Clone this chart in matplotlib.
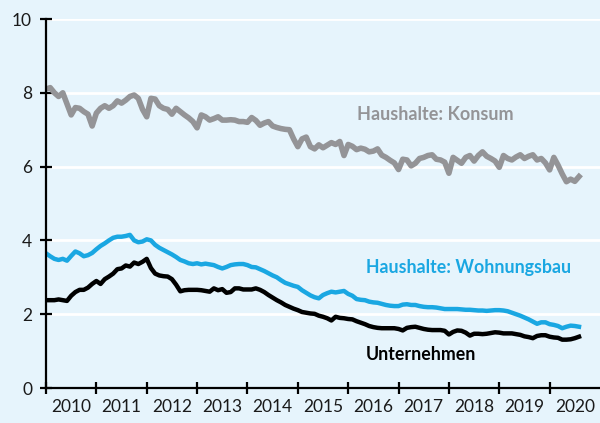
import numpy as np
import matplotlib
matplotlib.use("Agg")
import matplotlib.pyplot as plt
from matplotlib.ticker import FixedLocator, NullFormatter

# Monthly values, Jan 2010 .. Aug 2020 (percent)
konsum = [
    8.10, 8.14, 8.00, 7.90, 8.00, 7.70, 7.40, 7.60, 7.58, 7.49, 7.42, 7.10,
    7.45, 7.58, 7.65, 7.58, 7.65, 7.78, 7.72, 7.80, 7.90, 7.94, 7.85, 7.55,
    7.35, 7.85, 7.83, 7.65, 7.58, 7.55, 7.42, 7.58, 7.49, 7.40, 7.32, 7.22,
    7.05, 7.40, 7.35, 7.26, 7.30, 7.35, 7.26, 7.26, 7.27, 7.26, 7.22, 7.22,
    7.20, 7.33, 7.25, 7.12, 7.18, 7.22, 7.10, 7.06, 7.03, 7.01, 7.00, 6.75,
    6.54, 6.75, 6.80, 6.54, 6.48, 6.59, 6.51, 6.58, 6.65, 6.60, 6.68, 6.30,
    6.60, 6.55, 6.46, 6.50, 6.47, 6.40, 6.42, 6.48, 6.31, 6.25, 6.17, 6.10,
    5.92, 6.20, 6.18, 6.02, 6.09, 6.22, 6.25, 6.30, 6.32, 6.20, 6.18, 6.12,
    5.82, 6.25, 6.17, 6.09, 6.25, 6.30, 6.15, 6.30, 6.40, 6.28, 6.22, 6.15,
    5.98, 6.30, 6.22, 6.18, 6.26, 6.32, 6.22, 6.28, 6.32, 6.18, 6.22, 6.10,
    5.91, 6.25, 6.04, 5.80, 5.59, 5.66, 5.60, 5.73,
]
wohnungsbau = [
    3.65, 3.57, 3.50, 3.47, 3.50, 3.45, 3.58, 3.70, 3.65, 3.57, 3.60, 3.66,
    3.76, 3.85, 3.92, 4.00, 4.07, 4.10, 4.10, 4.12, 4.15, 4.00, 3.95, 3.97,
    4.03, 4.00, 3.88, 3.80, 3.74, 3.68, 3.62, 3.55, 3.47, 3.43, 3.38, 3.36,
    3.38, 3.35, 3.37, 3.35, 3.33, 3.28, 3.24, 3.28, 3.33, 3.35, 3.36, 3.36,
    3.33, 3.28, 3.27, 3.22, 3.17, 3.11, 3.05, 3.00, 2.92, 2.85, 2.81, 2.77,
    2.74, 2.65, 2.58, 2.51, 2.46, 2.43, 2.52, 2.57, 2.61, 2.59, 2.61, 2.63,
    2.55, 2.50, 2.41, 2.39, 2.38, 2.34, 2.32, 2.31, 2.28, 2.25, 2.23, 2.22,
    2.22, 2.26, 2.27, 2.25, 2.25, 2.22, 2.20, 2.19, 2.19, 2.18, 2.16, 2.14,
    2.14, 2.14, 2.14, 2.13, 2.12, 2.12, 2.11, 2.10, 2.10, 2.09, 2.10, 2.11,
    2.11, 2.10, 2.08, 2.04, 2.00, 1.96, 1.91, 1.86, 1.80, 1.74, 1.78, 1.78,
    1.73, 1.71, 1.68, 1.62, 1.66, 1.69, 1.68, 1.66,
]
unternehmen = [
    2.38, 2.38, 2.38, 2.40, 2.38, 2.36, 2.50, 2.60, 2.66, 2.66, 2.72, 2.82,
    2.90, 2.82, 2.95, 3.02, 3.10, 3.22, 3.24, 3.32, 3.29, 3.40, 3.36, 3.42,
    3.50, 3.25, 3.10, 3.05, 3.03, 3.02, 2.95, 2.80, 2.62, 2.65, 2.66, 2.66,
    2.66, 2.65, 2.63, 2.61, 2.70, 2.65, 2.68, 2.58, 2.60, 2.70, 2.70, 2.67,
    2.67, 2.67, 2.70, 2.66, 2.60, 2.52, 2.45, 2.38, 2.32, 2.25, 2.20, 2.15,
    2.11, 2.06, 2.04, 2.02, 2.01, 1.96, 1.93, 1.89, 1.83, 1.93, 1.90, 1.89,
    1.87, 1.86, 1.81, 1.77, 1.73, 1.68, 1.65, 1.63, 1.62, 1.62, 1.62, 1.62,
    1.60, 1.56, 1.63, 1.65, 1.66, 1.63, 1.60, 1.58, 1.57, 1.57, 1.57, 1.55,
    1.45, 1.52, 1.56, 1.55, 1.50, 1.42, 1.47, 1.47, 1.46, 1.47, 1.49, 1.51,
    1.50, 1.48, 1.48, 1.48, 1.46, 1.44, 1.40, 1.38, 1.35, 1.41, 1.43, 1.43,
    1.39, 1.37, 1.36, 1.31, 1.31, 1.32, 1.35, 1.39,
]
years = list(range(2010, 2021))
y_ticks = [0, 2, 4, 6, 8, 10]

BG = "#e6f4fc"
GREY = "#949497"
BLUE = "#1aa7e2"
BLACK = "#000000"

t = 2010 + np.arange(len(konsum)) / 12.0

plt.rcParams["font.family"] = ["Lato", "DejaVu Sans"]

fig = plt.figure(figsize=(6.0, 4.23), dpi=100, facecolor=BG)
ax = fig.add_axes([46 / 600, 35 / 423, 554 / 600, 369 / 423], facecolor=BG)

# white grid lines
for yv in y_ticks[1:]:
    ax.axhline(yv, color="white", lw=2.0, zorder=1)

ax.plot(t, konsum, color=GREY, lw=4.0, solid_joinstyle="round", zorder=3)
ax.plot(t, wohnungsbau, color=BLUE, lw=3.2, solid_joinstyle="round", zorder=4)
ax.plot(t, unternehmen, color=BLACK, lw=3.2, solid_joinstyle="round", zorder=5)

ax.text(2016.17, 7.40, "Haushalte: Konsum", color=GREY, fontsize=13,
        fontweight="bold", ha="left", va="center")
ax.text(2016.35, 3.26, "Haushalte: Wohnungsbau", color=BLUE, fontsize=12.8,
        fontweight="bold", ha="left", va="center")
ax.text(2016.35, 0.91, "Unternehmen", color=BLACK, fontsize=12.8,
        fontweight="bold", ha="left", va="center")

ax.set_xlim(2010, 2021)
ax.set_ylim(0, 10)

# year boundaries as ticks, labels centred in each year
ax.xaxis.set_major_locator(FixedLocator(years))
ax.xaxis.set_major_formatter(NullFormatter())
ax.xaxis.set_minor_locator(FixedLocator([y + 0.5 for y in years]))
ax.set_xticklabels([str(y) for y in years], minor=True)
ax.tick_params(axis="x", which="major", direction="inout", length=8, width=1.6)
ax.tick_params(axis="x", which="minor", length=0, pad=8, labelsize=12.5,
               labelcolor="#1a1a1a")

ax.set_yticks(y_ticks)
ax.tick_params(axis="y", direction="inout", length=8, width=1.6, pad=6,
               labelsize=12.5, labelcolor="#1a1a1a")

for side in ["top", "right"]:
    ax.spines[side].set_visible(False)
for side in ["left", "bottom"]:
    ax.spines[side].set_linewidth(1.6)
    ax.spines[side].set_zorder(6)

plt.savefig("out.png", dpi=100, facecolor=BG)
plt.close()
